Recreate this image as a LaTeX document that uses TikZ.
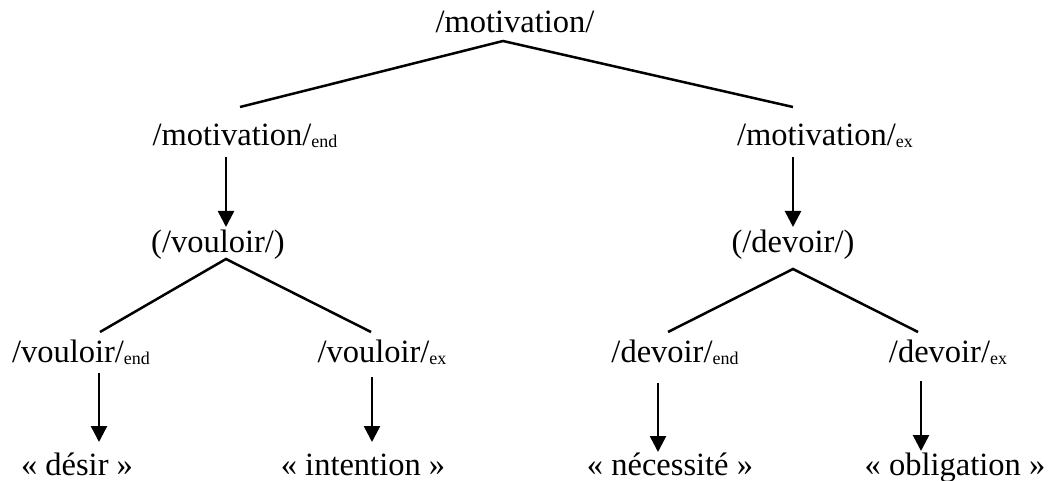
\documentclass[tikz,border=0pt]{standalone}
\usepackage{fontspec}
\setmainfont{Liberation Serif}
\usetikzlibrary{arrows.meta}
\newcommand{\sbx}[1]{\raisebox{-2pt}{\fontsize{18}{18}\selectfont #1}}
\tikzset{
  lbl/.style={anchor=base, inner sep=0pt, font=\fontsize{32.5}{36}\selectfont},
  branch/.style={line width=2.5pt},
  arr/.style={line width=2.5pt, -{Triangle[width=16pt,length=16pt]}}
}
\begin{document}
\begin{tikzpicture}[x=1pt,y=-1pt]
\useasboundingbox (0,0) rectangle (1055,481);
% nodes
\node[lbl] (top) at (515,33) {/motivation/};
\node[lbl] (mend) at (245,146) {/motivation/\sbx{end}};
\node[lbl] (mex) at (825,146) {/motivation/\sbx{ex}};
\node[lbl] (voul) at (218,252) {(/vouloir/)};
\node[lbl] (dev) at (793,252) {(/devoir/)};
\node[lbl] (vend) at (81,362) {/vouloir/\sbx{end}};
\node[lbl] (vex) at (382,362) {/vouloir/\sbx{ex}};
\node[lbl] (dend) at (675,362) {/devoir/\sbx{end}};
\node[lbl] (dex) at (948,362) {/devoir/\sbx{ex}};
\node[lbl] (desir) at (77,475) {« désir »};
\node[lbl] (inten) at (363,475) {« intention »};
\node[lbl] (nec) at (670,475) {« nécessité »};
\node[lbl] (obl) at (955,475) {« obligation »};
% connector points
\coordinate (a0) at (503,41);
\coordinate (a1) at (240,107);
\coordinate (a2) at (793,107);
\coordinate (b0) at (226,259);
\coordinate (b1) at (100,332);
\coordinate (b2) at (371,332);
\coordinate (c0) at (793,269);
\coordinate (c1) at (668,332);
\coordinate (c2) at (918,332);
% branches
\draw[branch] (a1) -- (a0) -- (a2);
\draw[branch] (b1) -- (b0) -- (b2);
\draw[branch] (c1) -- (c0) -- (c2);
% arrows
\draw[arr] (226,157) -- (226,227);
\draw[arr] (793,157) -- (793,227);
\draw[arr] (99,373) -- (99,442);
\draw[arr] (372,377) -- (372,442);
\draw[arr] (658,383) -- (658,452);
\draw[arr] (921,381) -- (921,451);
\end{tikzpicture}
\end{document}
